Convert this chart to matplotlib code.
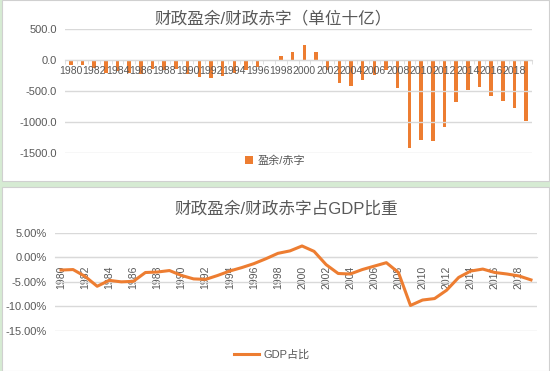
import numpy as np
import matplotlib
matplotlib.use('Agg')
import matplotlib.pyplot as plt
from matplotlib.patches import Rectangle

plt.rcParams['font.family'] = ['Liberation Sans', 'Noto Sans CJK SC', 'DejaVu Sans']

years = list(range(1980, 2020))
balance = [-73.8, -79.0, -128.0, -207.8, -185.4, -212.3, -221.2, -149.7, -155.2, -152.6,
           -221.0, -269.2, -290.3, -255.1, -203.2, -164.0, -107.4, -21.9, 69.3, 125.6,
           236.2, 128.2, -157.8, -377.6, -412.7, -318.3, -248.2, -160.7, -458.6, -1412.7,
           -1294.4, -1299.6, -1087.0, -679.5, -484.6, -442.0, -584.7, -665.4, -779.0, -984.0]
gdp_ratio = [-2.6, -2.5, -3.9, -5.9, -4.7, -5.0, -4.9, -3.1, -3.0, -2.7,
             -3.7, -4.4, -4.5, -3.7, -2.8, -2.1, -1.3, -0.3, 0.8, 1.3,
             2.3, 1.2, -1.5, -3.3, -3.4, -2.5, -1.8, -1.1, -3.1, -9.8,
             -8.7, -8.4, -6.7, -4.1, -2.8, -2.4, -3.1, -3.4, -3.8, -4.6]

orange = '#ED7D31'
grey_text = '#595959'
grid_c = '#d9d9d9'

W, H = 550, 371
fig = plt.figure(figsize=(5.5, 3.71), dpi=100, facecolor='#d6ebd3')

# white panels like two excel charts
fig.patches.append(Rectangle((2 / W, (H - 181) / H), 547 / W, 181 / H, transform=fig.transFigure,
                             facecolor='white', edgecolor='#d0d0d0', linewidth=0.8, zorder=-5))
fig.patches.append(Rectangle((2 / W, 0), 547 / W, (H - 187) / H, transform=fig.transFigure,
                             facecolor='white', edgecolor='#d0d0d0', linewidth=0.8, zorder=-5))

x = np.arange(len(years))
even = x[::2]
even_labels = [str(y) for y in years[::2]]

# ---- top: surplus / deficit bars
ax1 = fig.add_axes([65 / W, (H - 153) / H, 467 / W, 124 / H])
ax1.set_facecolor('none')
ax1.bar(x, balance, width=0.3, color=orange, zorder=2, label='盈余/赤字')
ax1.set_xlim(-0.5, len(years) - 0.5)
ax1.set_ylim(-1500, 500)
ax1.set_yticks([500, 0, -500, -1000, -1500])
ax1.set_yticklabels(['%.1f' % v for v in [500, 0, -500, -1000, -1500]])
ax1.grid(axis='y', color=grid_c, linewidth=1, zorder=0)
for s in ['top', 'right', 'left']:
    ax1.spines[s].set_visible(False)
ax1.spines['bottom'].set_position(('data', 0))
ax1.spines['bottom'].set_color(grid_c)
ax1.set_xticks(even)
ax1.set_xticklabels(even_labels)
ax1.set_xticks(np.arange(-0.5, len(years), 1), minor=True)
ax1.tick_params(axis='x', which='major', length=0, pad=4, labelsize=7.5, labelcolor=grey_text)
ax1.tick_params(axis='x', which='minor', length=3, color=grid_c)
ax1.tick_params(axis='y', length=0, pad=6, labelsize=8, labelcolor=grey_text)
ax1.set_axisbelow(False)
ax1.set_title('财政盈余/财政赤字（单位十亿）', fontsize=12, color=grey_text, pad=4, x=0.445)
ax1.legend(loc='center', bbox_to_anchor=(0.45, -0.06), frameon=False, fontsize=8,
           labelcolor=grey_text, handlelength=0.7, handleheight=0.7, handletextpad=0.4)

# ---- bottom: share of GDP line
ax2 = fig.add_axes([55 / W, (H - 331) / H, 482 / W, 98.3 / H])
ax2.set_facecolor('none')
ax2.plot(x, gdp_ratio, color=orange, linewidth=2.2, zorder=3, label='GDP占比')
ax2.set_xlim(-0.5, len(years) - 0.5)
ax2.set_ylim(-15, 5)
ax2.set_yticks([5, 0, -5, -10, -15])
ax2.set_yticklabels(['%.2f%%' % v for v in [5, 0, -5, -10, -15]])
ax2.grid(axis='y', color=grid_c, linewidth=1, zorder=0)
for s in ['top', 'right', 'left']:
    ax2.spines[s].set_visible(False)
ax2.spines['bottom'].set_position(('data', 0))
ax2.spines['bottom'].set_color(grid_c)
ax2.set_xticks(even)
ax2.set_xticklabels(even_labels, rotation=90, va='top', ha='center')
ax2.tick_params(axis='x', length=0, pad=6, labelsize=7.5, labelcolor=grey_text)
ax2.tick_params(axis='y', length=0, pad=6, labelsize=8, labelcolor=grey_text)
ax2.set_title('财政盈余/财政赤字占GDP比重', fontsize=12, color=grey_text, pad=14, x=0.48)
ax2.legend(loc='center', bbox_to_anchor=(0.45, -0.24), frameon=False, fontsize=8,
           labelcolor=grey_text, handlelength=2.2, handletextpad=0.4)

fig.savefig('out.png', dpi=100, facecolor=fig.get_facecolor())
